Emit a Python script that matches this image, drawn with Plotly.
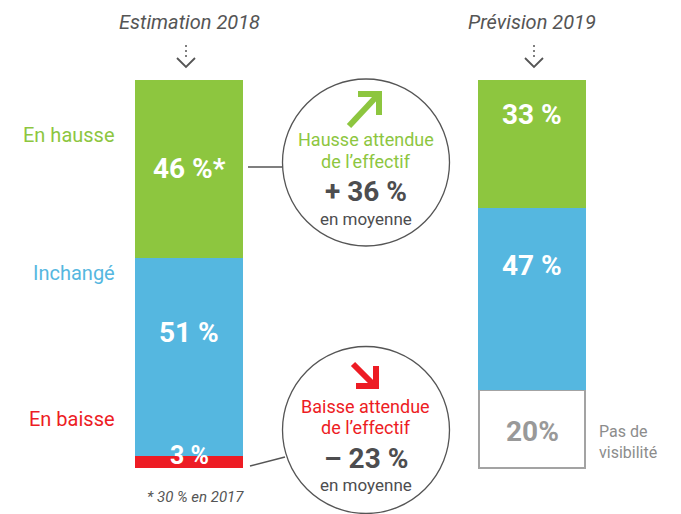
import plotly.graph_objects as go

# ---- data ----
categories = ["Estimation 2018", "Prévision 2019"]
baisse = [3, None]
sans_visibilite = [None, 20]
inchange = [51, 47]
hausse = [46, 33]

hausse_labels = ["46 %*", "33 %"]
inchange_labels = ["51 %", "47 %"]
baisse_labels = ["3 %", None]
visibilite_labels = [None, "20%"]

hausse_moy = "+ 36 %"
baisse_moy = "– 23 %"

GREEN = "#8dc63f"
BLUE = "#55b7e0"
RED = "#ed1c24"
DARK = "#4d4d4f"
GRAY = "#a3a3a3"

W, H = 681, 514
xs = [0, 1]

fig = go.Figure()
fig.add_trace(go.Bar(x=xs, y=baisse, marker=dict(color=RED, line=dict(width=0)),
                     width=0.315, name="En baisse", hoverinfo="skip"))
fig.add_trace(go.Bar(x=xs, y=sans_visibilite,
                     marker=dict(color="white", line=dict(color=GRAY, width=2)),
                     width=0.31, name="Pas de visibilité", hoverinfo="skip"))
fig.add_trace(go.Bar(x=xs, y=inchange, marker=dict(color=BLUE, line=dict(width=0)),
                     width=0.315, name="Inchangé", hoverinfo="skip"))
fig.add_trace(go.Bar(x=xs, y=hausse, marker=dict(color=GREEN, line=dict(width=0)),
                     width=0.315, name="En hausse", hoverinfo="skip"))


def px(x):
    return x / W


def py(y):
    return 1 - y / H


ann = []
# bar value labels (data coordinates)
label_pos = {
    (0, "h"): 77.3, (0, "i"): 35.0, (0, "b"): 3.1,
    (1, "h"): 91.0, (1, "i"): 52.3, (1, "v"): 9.3,
}
NUMFONT = "Roboto"
C = dict(xanchor="center", yanchor="middle", showarrow=False)
for i in xs:
    ann.append(dict(x=i, y=label_pos[(i, "h")], text=f"<b>{hausse_labels[i]}</b>",
                    font=dict(family=NUMFONT, size=28, color="white"), **C))
    ann.append(dict(x=i, y=label_pos[(i, "i")], text=f"<b>{inchange_labels[i]}</b>",
                    font=dict(family=NUMFONT, size=28, color="white"), **C))
ann.append(dict(x=0, y=label_pos[(0, "b")], text=f"<b>{baisse_labels[0]}</b>",
                font=dict(family=NUMFONT, size=25, color="white"), **C))
ann.append(dict(x=1, y=label_pos[(1, "v")], text=f"<b>{visibilite_labels[1]}</b>",
                font=dict(family=NUMFONT, size=28, color="#999999"), **C))

# titles
for i, c in enumerate(categories):
    ann.append(dict(x=i, y=py(22), yref="paper", text=f"<i>{c}</i>",
                    font=dict(family="Roboto", size=20, color="#555555"), **C))

# side labels
side = [("En hausse", 135, GREEN), ("Inchangé", 273, BLUE), ("En baisse", 419, RED)]
for t, yy, col in side:
    ann.append(dict(x=px(117), y=py(yy), xref="paper", yref="paper", text=t,
                    xanchor="right", yanchor="middle", showarrow=False,
                    font=dict(family="Roboto", size=20, color=col)))

ann.append(dict(x=px(597), y=py(442), xref="paper", yref="paper",
                text="Pas de<br>visibilité", xanchor="left", yanchor="middle",
                align="left", showarrow=False,
                font=dict(family="Roboto", size=16, color="#8c8c8c")))

ann.append(dict(x=px(195), y=py(497), xref="paper", yref="paper",
                text="<i>* 30 % en 2017</i>",
                font=dict(family="Roboto", size=15, color="#555555"), **C))

# circle texts
CX = 366
def circle_text(lines):
    for t, yy, size, col, bold in lines:
        txt = f"<b>{t}</b>" if bold else t
        ann.append(dict(x=px(CX), y=py(yy), xref="paper", yref="paper", text=txt,
                        font=dict(family="Roboto", size=size, color=col),
                        borderpad=0, **C))

circle_text([
    ("Hausse attendue", 140, 18, GREEN, False),
    ("de l’effectif", 161, 18, GREEN, False),
    (hausse_moy, 191, 28, DARK, True),
    ("en moyenne", 219, 17, DARK, False),
])
circle_text([
    ("Baisse attendue", 406, 18, RED, False),
    ("de l’effectif", 427, 18, RED, False),
    (baisse_moy, 458, 28, DARK, True),
    ("en moyenne", 485, 17, DARK, False),
])

shapes = []
R = 83.5
for cy in (162.5, 430):
    shapes.append(dict(type="circle", xref="paper", yref="paper",
                       x0=px(CX - R), x1=px(CX + R), y0=py(cy + R), y1=py(cy - R),
                       line=dict(color="#555555", width=1.3), fillcolor="rgba(0,0,0,0)"))

def seg(x0, y0, x1, y1, color, width):
    shapes.append(dict(type="line", xref="paper", yref="paper",
                       x0=px(x0), y0=py(y0), x1=px(x1), y1=py(y1),
                       line=dict(color=color, width=width)))

# connectors
seg(248, 167, 282.5, 167, "#555555", 1.5)
seg(250, 466, 285, 457, "#555555", 1.5)

# arrows
def path(points, color, width):
    d = "M " + " L ".join(f"{px(x)},{py(y)}" for x, y in points)
    shapes.append(dict(type="path", xref="paper", yref="paper", path=d,
                       line=dict(color=color, width=width)))

path([(349, 126), (377, 96)], GREEN, 6)
path([(358, 94), (379, 94), (379, 115)], GREEN, 6)
path([(353, 364), (375, 386)], RED, 6)
path([(376, 366), (376, 386), (356, 386)], RED, 6)

# chevrons with dots
for cx in (186, 534):
    for dy in (46, 51, 56):
        shapes.append(dict(type="circle", xref="paper", yref="paper",
                           x0=px(cx - 1), x1=px(cx + 1), y0=py(dy + 1), y1=py(dy - 1),
                           fillcolor="#555555", line=dict(width=0)))
    path([(cx - 9, 58), (cx, 67), (cx + 9, 58)], "#555555", 1.8)

fig.update_layout(
    width=W, height=H,
    margin=dict(l=0, r=0, t=0, b=0),
    barmode="stack",
    bargap=0,
    showlegend=False,
    plot_bgcolor="white", paper_bgcolor="white",
    xaxis=dict(range=[-189 / 343, (W - 189) / 343], visible=False, fixedrange=True),
    yaxis=dict(range=[-(H - 468) / 3.88, 468 / 3.88], visible=False, fixedrange=True),
    annotations=ann,
    shapes=shapes,
)

fig.write_html("out.html", config={"displayModeBar": False},
               post_script="document.body.style.margin='0px';")
